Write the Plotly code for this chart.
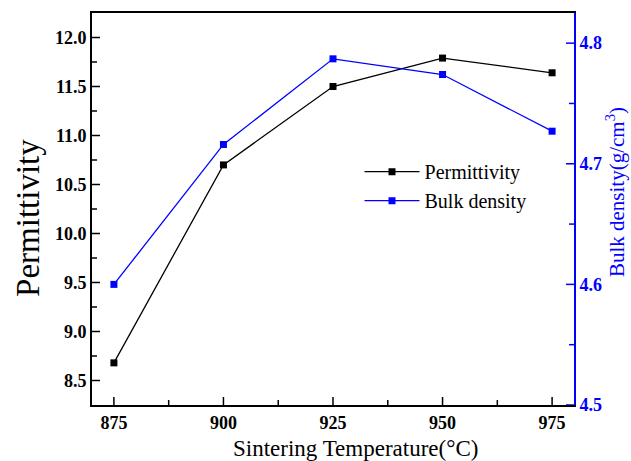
import plotly.graph_objects as go

temps = [875, 900, 925, 950, 975]
permittivity = [8.68, 10.70, 11.50, 11.79, 11.64]
bulk_density = [4.600, 4.716, 4.787, 4.774, 4.727]

x_minor = [887.5, 912.5, 937.5, 962.5]
perm_ticks = [8.5, 9.0, 9.5, 10.0, 10.5, 11.0, 11.5, 12.0]
perm_labels = ["8.5", "9.0", "9.5", "10.0", "10.5", "11.0", "11.5", "12.0"]
perm_minor = [8.75, 9.25, 9.75, 10.25, 10.75, 11.25, 11.75]
dens_ticks = [4.5, 4.6, 4.7, 4.8]
dens_labels = ["4.5", "4.6", "4.7", "4.8"]
dens_minor = [4.55, 4.65, 4.75]

serif = "Liberation Serif"
BLUE = "#0000ff"
X_RANGE = [870, 980]
P_RANGE = [8.25, 12.25]
D_RANGE = [4.5, 4.825]

W, H = 631, 461
ML, MR, MT, MB = 92, 57, 13, 56
PW, PH = W - ML - MR, H - MT - MB
MAJ, MIN = 8, 5

fig = go.Figure()
fig.add_trace(go.Scatter(x=temps, y=permittivity, name="Permittivity", mode="lines+markers",
                         line=dict(color="black", width=1.3),
                         marker=dict(symbol="square", size=7, color="black")))
fig.add_trace(go.Scatter(x=temps, y=bulk_density, name="Bulk density", mode="lines+markers",
                         yaxis="y2",
                         line=dict(color=BLUE, width=1.3),
                         marker=dict(symbol="square", size=7, color=BLUE)))

# inward tick marks, generated from the tick arrays
shapes = []
for vals, ln in [(temps, MAJ), (x_minor, MIN)]:
    for v in vals:
        shapes.append(dict(type="line", xref="x", yref="paper", x0=v, x1=v, y0=0, y1=ln / PH,
                           line=dict(color="black", width=1.5)))
for vals, ln in [(perm_ticks, MAJ), (perm_minor, MIN)]:
    for v in vals:
        shapes.append(dict(type="line", xref="paper", yref="y", x0=0, x1=ln / PW, y0=v, y1=v,
                           line=dict(color="black", width=1.5)))
for vals, ln in [(dens_ticks, MAJ), (dens_minor, MIN)]:
    for v in vals:
        shapes.append(dict(type="line", xref="paper", yref="y2", x0=1 - ln / PW, x1=1, y0=v, y1=v,
                           line=dict(color=BLUE, width=1.5)))

fig.update_layout(
    width=W, height=H,
    margin=dict(l=ML, r=MR, t=MT, b=MB),
    plot_bgcolor="white", paper_bgcolor="white",
    font=dict(family=serif, color="black"),
    showlegend=True,
    legend=dict(x=0.555, y=0.645, xanchor="left", yanchor="top",
                bgcolor="rgba(0,0,0,0)", font=dict(family=serif, size=20, color="black"),
                tracegroupgap=0, itemwidth=55),
    xaxis=dict(range=X_RANGE, tickmode="array", tickvals=temps, ticks="",
               showline=True, linecolor="black", linewidth=2, mirror=True,
               showgrid=False, zeroline=False,
               tickfont=dict(family=serif, size=18, color="black", weight="bold")),
    yaxis=dict(range=P_RANGE, tickmode="array", tickvals=perm_ticks, ticktext=perm_labels,
               ticks="", showline=True, linecolor="black", linewidth=2, mirror=False,
               showgrid=False, zeroline=False,
               tickfont=dict(family=serif, size=18, color="black", weight="bold")),
    yaxis2=dict(range=D_RANGE, overlaying="y", side="right", anchor="x",
                tickmode="array", tickvals=dens_ticks, ticktext=dens_labels, ticks="",
                showline=True, linecolor=BLUE, linewidth=2,
                showgrid=False, zeroline=False,
                tickfont=dict(family=serif, size=18, color=BLUE, weight="bold")),
    shapes=shapes,
    annotations=[
        dict(text="Sintering Temperature(°C)", xref="paper", yref="paper", x=0.546, y=-0.11,
             xanchor="center", yanchor="middle", showarrow=False,
             font=dict(family=serif, size=23, color="black")),
        dict(text="Permittivity", xref="paper", yref="paper", x=-0.133, y=0.477,
             xanchor="center", yanchor="middle", textangle=-90, showarrow=False,
             font=dict(family=serif, size=33, color="black")),
        dict(text="Bulk density(g/cm<sup>3</sup>)", xref="paper", yref="paper", x=1.085, y=0.543,
             xanchor="center", yanchor="middle", textangle=-90, showarrow=False,
             font=dict(family=serif, size=21, color=BLUE)),
    ],
)

fig.write_html("out.html")
